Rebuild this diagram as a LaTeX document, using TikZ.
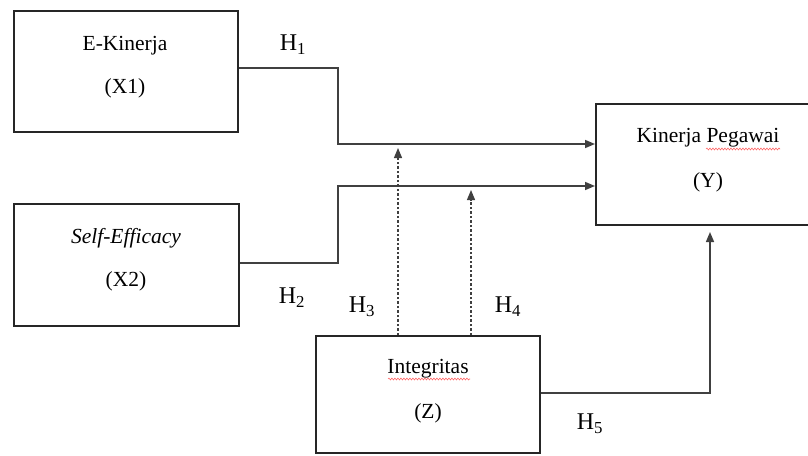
\documentclass[tikz,border=0pt]{standalone}
\usepackage{fontspec}
\setmainfont{Liberation Serif}
\usetikzlibrary{arrows.meta,decorations.pathmorphing}
\begin{document}
\begin{tikzpicture}[x=1pt,y=-1pt,
  box/.style={draw=black!85, line width=2pt, rectangle, inner sep=0pt},
  conn/.style={draw=black!75, line width=1.5pt},
  arr/.style={conn, -{Triangle[length=10pt,width=8pt]}},
  dsh/.style={draw=black!75, line width=1.2pt, dash pattern=on 2.5pt off 2pt, -{Triangle[length=10pt,width=8pt]}},
  lbl/.style={font=\fontsize{21.5}{25}\selectfont},
  hyp/.style={font=\fontsize{24}{27}\selectfont},
  spell/.style={draw=red!60, line width=0.6pt, decorate, decoration={snake, amplitude=0.9pt, segment length=3pt}}]
\clip (0,0) rectangle (808,455);
\fill[white] (0,0) rectangle (808,455);
% boxes
\node[box, minimum width=224pt, minimum height=121pt] (x1) at (126,71.5) {};
\node[box, minimum width=225pt, minimum height=122pt] (x2) at (126.5,265) {};
\node[box, minimum width=224pt, minimum height=121pt] (y) at (708,164.5) {};
\node[box, minimum width=224pt, minimum height=117pt] (z) at (428,394.5) {};
% texts
\node[lbl] (t1) at (125,46) {E-Kinerja};
\node[lbl] (t1b) at (125,88) {(X1)};
\node[lbl] (t2) at (126,238) {\itshape Self-Efficacy};
\node[lbl] (t2b) at (126,281) {(X2)};
\node[lbl] (t3) at (708,138) {Kinerja Pegawai};
\node[lbl] (t3b) at (708,182) {(Y)};
\node[lbl] (t4) at (428,369) {Integritas};
\node[lbl] (t4b) at (428,413) {(Z)};
\draw[spell] (706,149) -- (780,149);
\draw[spell] (388,379) -- (470,379);
% hypothesis labels
\node[hyp] (h1) at (293,45) {H\textsubscript{1}};
\node[hyp] (h2) at (292,298) {H\textsubscript{2}};
\node[hyp] (h3) at (362,307) {H\textsubscript{3}};
\node[hyp] (h4) at (508,307) {H\textsubscript{4}};
\node[hyp] (h5) at (590,424) {H\textsubscript{5}};
% connectors
\coordinate (j1) at (338,144);
\coordinate (j2) at (338,186);
\draw[arr] (x1.east |- 0,68) -| (j1) -- (y.west |- j1);
\draw[arr] (x2.east |- 0,263) -| (j2) -- (y.west |- j2);
\coordinate (d1) at (398,148);
\coordinate (d2) at (471,190);
\draw[dsh] (z.north -| d1) -- (d1);
\draw[dsh] (z.north -| d2) -- (d2);
\coordinate (h5end) at (710,232);
\draw[arr] (z.east |- 0,393) -| (h5end);
\end{tikzpicture}
\end{document}
